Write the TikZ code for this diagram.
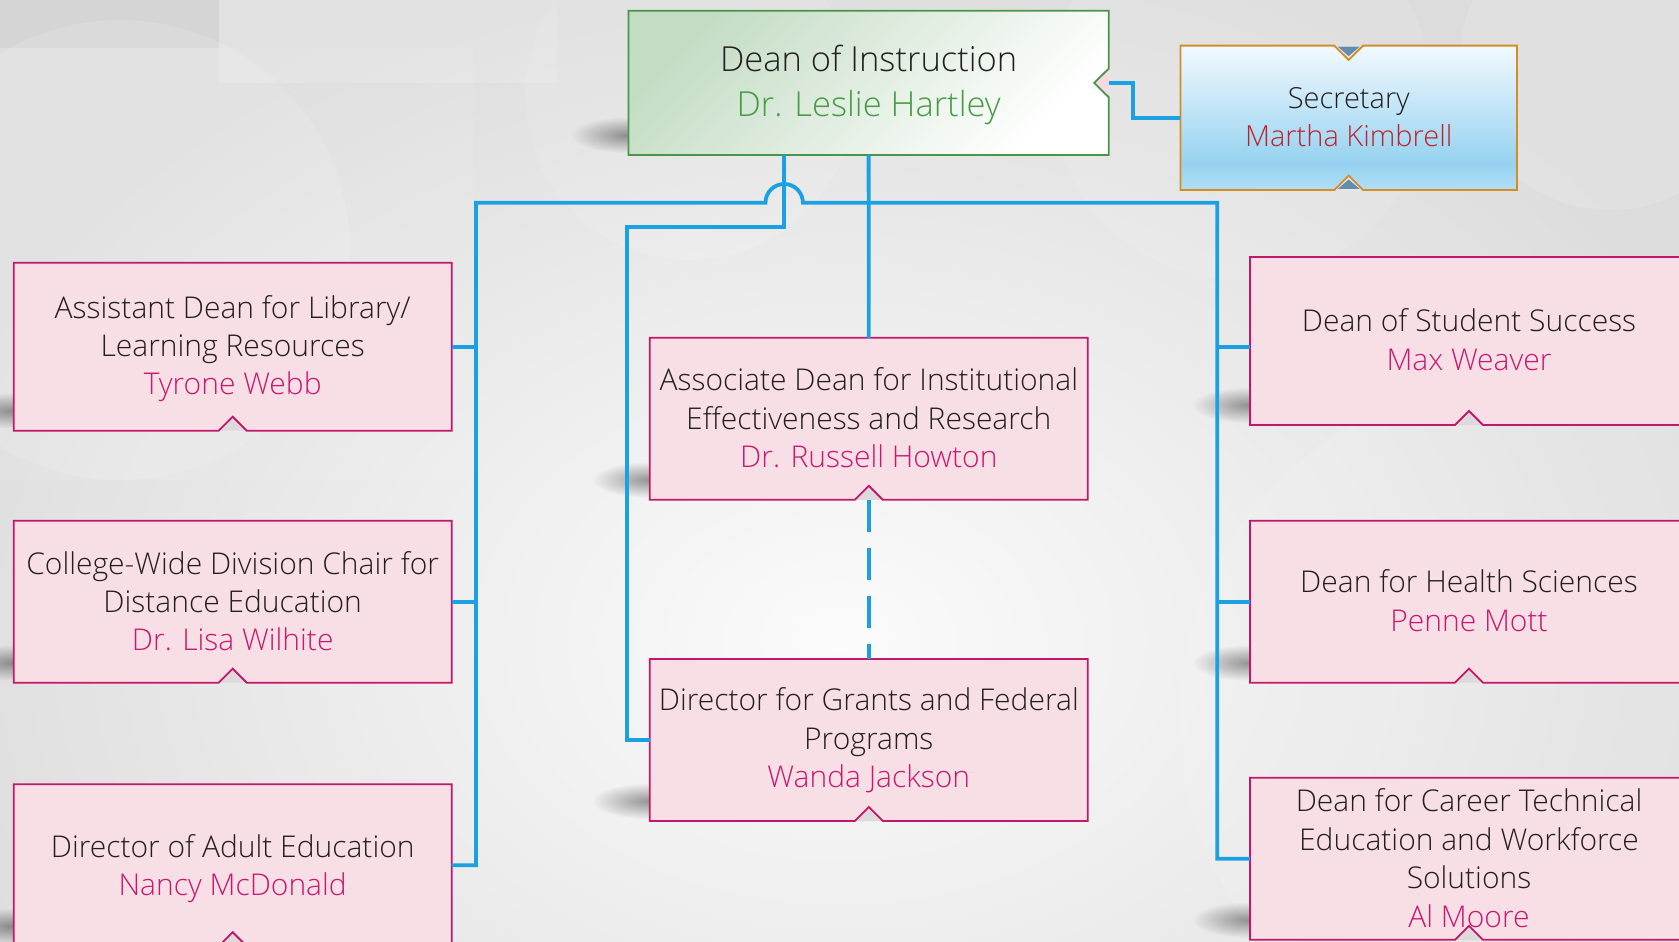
\documentclass[tikz,border=0pt]{standalone}
\usepackage{fontspec}
\setmainfont{Open Sans}[UprightFont=* Light]
\usetikzlibrary{fadings,calc}
\definecolor{pinkfill}{RGB}{247,223,229}
\definecolor{pinkline}{RGB}{194,24,108}
\definecolor{namepink}{RGB}{200,24,112}
\definecolor{notchgray}{RGB}{222,218,220}
\definecolor{txt}{RGB}{35,31,32}
\definecolor{deanline}{RGB}{72,150,72}
\definecolor{deangreen}{RGB}{196,220,196}
\definecolor{deanname}{RGB}{70,155,70}
\definecolor{deannotch}{RGB}{248,216,226}
\definecolor{secline}{RGB}{212,140,36}
\definecolor{sectop}{RGB}{242,249,254}
\definecolor{secmid}{RGB}{150,210,240}
\definecolor{secbot}{RGB}{178,222,245}
\definecolor{secname}{RGB}{190,35,45}
\definecolor{sectri}{RGB}{100,140,175}
\definecolor{secnotch}{RGB}{228,232,236}
\definecolor{wire}{RGB}{27,161,226}
\definecolor{bggray}{RGB}{220,220,220}
\pgfdeclareverticalshading{secshade}{100bp}{color(0bp)=(secbot); color(25bp)=(secbot); color(34bp)=(secmid); color(75bp)=(sectop); color(100bp)=(sectop)}
\tikzfading[name=softblob, inner color=transparent!0, outer color=transparent!100]
\pgfdeclarelayer{bg}
\pgfdeclarelayer{shadelayer}
\pgfdeclarelayer{fillings}
\pgfsetlayers{bg,shadelayer,fillings,main}
\newcommand\tstr[1]{\rule{0pt}{#1pt}}
\newcommand\bstr{\rule[-12pt]{0pt}{12pt}}
\tikzset{
  boxnode/.style={inner sep=0pt, outer sep=0pt, align=center, text=txt,
    minimum width=438pt, minimum height=162pt, font=\fontsize{30}{38.3}\selectfont},
  wireline/.style={draw=wire, line width=3.8pt},
  pinkedge/.style={draw=pinkline, line width=1.8pt},
  blobshadow/.style={fill=black, opacity=.38, path fading=softblob}
}
\newcommand\boxshadow[1]{%
  \begin{pgfonlayer}{shadelayer}
    \path[blobshadow] ([xshift=-2pt,yshift=20pt]#1.south west) ellipse [x radius=56pt, y radius=18pt];
  \end{pgfonlayer}}
\newcommand\pinkbox[1]{%
  \boxshadow{#1}%
  \begin{pgfonlayer}{fillings}
    \fill[pinkfill] (#1.north west) -- (#1.north east) -- (#1.south east) -- ([xshift=14pt]#1.south) -- ([yshift=14pt]#1.south) -- ([xshift=-14pt]#1.south) -- (#1.south west) -- cycle;
    \fill[notchgray] ([xshift=14pt]#1.south) -- ([yshift=14pt]#1.south) -- ([xshift=-14pt]#1.south) -- cycle;
  \end{pgfonlayer}
  \draw[pinkedge] (#1.north west) -- (#1.north east) -- (#1.south east) -- ([xshift=14pt]#1.south) -- ([yshift=14pt]#1.south) -- ([xshift=-14pt]#1.south) -- (#1.south west) -- cycle;}
\begin{document}
\begin{tikzpicture}[x=1pt,y=-1pt]
\useasboundingbox (0,0) rectangle (1679,942);
% background
\begin{pgfonlayer}{bg}
  \fill[bggray] (0,0) rectangle (1679,942);
  \fill[white, opacity=.9, path fading=softblob] (840,640) ellipse [x radius=1000pt, y radius=720pt];
  \fill[black, opacity=.03] (0,0) rectangle (219,48);
  \fill[white, opacity=.15] (219,0) rectangle (557,82.7);
  \fill[white, opacity=.08] (0,48) rectangle (473,480);
  \fill[white, opacity=.12] (120,250) circle (230pt);
  \fill[white, opacity=.10] (690,95) circle (165pt);
  \fill[white, opacity=.12] (1610,60) circle (150pt);
  \fill[white, opacity=.10] (1520,720) circle (340pt);
  \fill[white, opacity=.10] (1240,90) circle (190pt);
\end{pgfonlayer}

% nodes
\node[boxnode, minimum width=480.2pt, minimum height=144.3pt, font=\fontsize{34.5}{45}\selectfont] (dean) at (868.6,82.9)
  {\tstr{34.6}Dean of Instruction\\\textcolor{deanname}{Dr. Leslie Hartley}\bstr};
\node[boxnode, minimum width=336.5pt, minimum height=144.3pt, font=\fontsize{29}{38.4}\selectfont] (sec) at (1348.7,117.8)
  {\tstr{31.4}Secretary\\\textcolor{secname}{Martha Kimbrell}\bstr};
\node[boxnode, minimum height=168pt] (lib) at (232.7,346.7)
  {\tstr{31.2}Assistant Dean for Library/\\Learning Resources\\\textcolor{namepink}{Tyrone Webb}\bstr};
\node[boxnode] (dist) at (232.7,601.7)
  {\tstr{33.2}College-Wide Division Chair for\\Distance Education\\\textcolor{namepink}{Dr. Lisa Wilhite}\bstr};
\node[boxnode] (adult) at (232.7,865.2)
  {\tstr{33.9}Director of Adult Education\\\textcolor{namepink}{Nancy McDonald}\bstr};
\node[boxnode] (assoc) at (868.8,418.8)
  {\tstr{32.4}Associate Dean for Institutional\\Effectiveness and Research\\\textcolor{namepink}{Dr. Russell Howton}\bstr};
\node[boxnode] (grants) at (868.8,740)
  {\tstr{30}Director for Grants and Federal\\Programs\\\textcolor{namepink}{Wanda Jackson}\bstr};
\node[boxnode, minimum height=168pt] (student) at (1469,341)
  {\tstr{31.7}Dean of Student Success\\\textcolor{namepink}{Max Weaver}\bstr};
\node[boxnode] (health) at (1469,601.7)
  {\tstr{32.3}Dean for Health Sciences\\\textcolor{namepink}{Penne Mott}\bstr};
\node[boxnode, font=\fontsize{30}{38.5}\selectfont] (career) at (1469,858.8)
  {\tstr{33.3}Dean for Career Technical\\Education and Workforce\\Solutions\\\textcolor{namepink}{Al Moore}\bstr};

% pink boxes
\pinkbox{lib}\pinkbox{dist}\pinkbox{adult}\pinkbox{assoc}\pinkbox{grants}
\pinkbox{student}\pinkbox{health}\pinkbox{career}

% dean box
\boxshadow{dean}
\begin{pgfonlayer}{fillings}
  \shade[top color=deangreen, bottom color=white, shading angle=45]
    (dean.north west) -- (dean.north east) -- ([yshift=14.3pt]dean.east) -- ([xshift=-14.5pt]dean.east) -- ([yshift=-14.3pt]dean.east) -- (dean.south east) -- (dean.south west) -- cycle;
  \fill[deannotch] ([yshift=14.3pt]dean.east) -- ([xshift=-14.5pt]dean.east) -- ([yshift=-14.3pt]dean.east) -- cycle;
\end{pgfonlayer}
\draw[deanline, line width=1.8pt]
  (dean.north west) -- (dean.north east) -- ([yshift=14.3pt]dean.east) -- ([xshift=-14.5pt]dean.east) -- ([yshift=-14.3pt]dean.east) -- (dean.south east) -- (dean.south west) -- cycle;

% secretary box
\begin{pgfonlayer}{fillings}
  \shade[shading=secshade]
    (sec.north west) -- ([xshift=-14.4pt]sec.north) -- ([yshift=-14.3pt]sec.north) -- ([xshift=14.4pt]sec.north) -- (sec.north east) -- (sec.south east) -- ([xshift=14.4pt]sec.south) -- ([yshift=14.3pt]sec.south) -- ([xshift=-14.4pt]sec.south) -- (sec.south west) -- cycle;
  \fill[secnotch] ([xshift=-14.4pt]sec.north) -- ([yshift=-14.3pt]sec.north) -- ([xshift=14.4pt]sec.north) -- cycle;
  \fill[secnotch] ([xshift=-14.4pt]sec.south) -- ([yshift=14.3pt]sec.south) -- ([xshift=14.4pt]sec.south) -- cycle;
  \fill[sectri] ([xshift=-11pt,yshift=-1pt]sec.north) -- ([yshift=-10.5pt]sec.north) -- ([xshift=11pt,yshift=-1pt]sec.north) -- cycle;
  \fill[sectri] ([xshift=-11pt,yshift=1pt]sec.south) -- ([yshift=10.5pt]sec.south) -- ([xshift=11pt,yshift=1pt]sec.south) -- cycle;
\end{pgfonlayer}
\draw[secline, line width=1.8pt]
  (sec.north west) -- ([xshift=-14.4pt]sec.north) -- ([yshift=-14.3pt]sec.north) -- ([xshift=14.4pt]sec.north) -- (sec.north east) -- (sec.south east) -- ([xshift=14.4pt]sec.south) -- ([yshift=14.3pt]sec.south) -- ([xshift=-14.4pt]sec.south) -- (sec.south west) -- cycle;

% connectors
\coordinate (jl) at (476,202.7);
\coordinate (jr) at (1217.3,202.7);
\coordinate (hopL) at (765.5,202.7);
\coordinate (hopR) at (802.9,202.7);
\coordinate (gturn) at (626.7,226.7);
\draw[wireline] (adult.east) -| (jl) -- (hopL) arc[start angle=180, end angle=0, radius=18.7pt] -- (jr) |- (career.west);
\draw[wireline] (lib.east) -- (lib.east -| jl);
\draw[wireline] (dist.east) -- (dist.east -| jl);
\draw[wireline] ([yshift=-5.7pt]student.west) -- ([yshift=-5.7pt]student.west -| jr);
\draw[wireline] (health.west) -- (health.west -| jr);
\draw[wireline] (dean.south) -- (assoc.north);
\draw[wireline] ([xshift=-84.4pt]dean.south) |- (gturn) |- (grants.west);
\draw[wireline, dash pattern=on 32pt off 16pt] (assoc.south) -- (grants.north);
\draw[wireline] (dean.east) -- ++(24.5,0) |- (sec.west);
\end{tikzpicture}
\end{document}
